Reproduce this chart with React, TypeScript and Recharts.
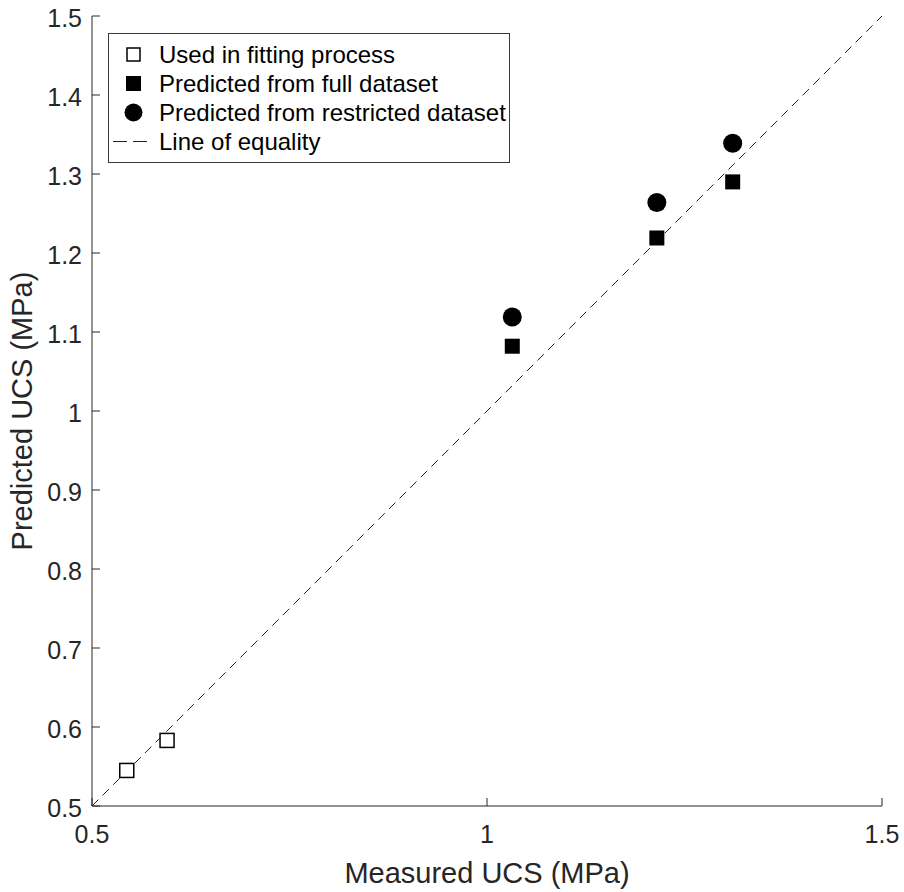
import { ScatterChart, Scatter, XAxis, YAxis, ReferenceLine, Legend } from 'recharts'

const FONT = '"Liberation Sans", Arial, Helvetica, sans-serif'
const INK = '#262626'

// measured vs predicted UCS (MPa)
const fitMeasured = [0.544, 0.595]
const fitPredicted = [0.545, 0.583]
const testMeasured = [1.032, 1.215, 1.311]
const fullPredicted = [1.082, 1.219, 1.29]
const restrictedPredicted = [1.119, 1.264, 1.339]

const xTicks = [0.5, 1, 1.5]
const yTicks = [0.5, 0.6, 0.7, 0.8, 0.9, 1, 1.1, 1.2, 1.3, 1.4, 1.5]

const legendItems = [
  { key: 'open', label: 'Used in fitting process' },
  { key: 'square', label: 'Predicted from full dataset' },
  { key: 'circle', label: 'Predicted from restricted dataset' },
  { key: 'dash', label: 'Line of equality' },
]

const fitData = fitMeasured.map((x, i) => ({ x, y: fitPredicted[i] }))
const fullData = testMeasured.map((x, i) => ({ x, y: fullPredicted[i] }))
const restrictedData = testMeasured.map((x, i) => ({ x, y: restrictedPredicted[i] }))

const fmt = (v: number) => String(Number(v.toFixed(1)))

const OpenSquare = (p: any) => (
  <rect x={p.cx - 7} y={p.cy - 7} width={14} height={14} fill="#fff" stroke="#000" strokeWidth={1.5} />
)
const FilledSquare = (p: any) => (
  <rect x={p.cx - 7.5} y={p.cy - 7.5} width={15} height={15} fill="#000" />
)
const Dot = (p: any) => <circle cx={p.cx} cy={p.cy} r={9.5} fill="#000" />

const XTick = ({ x, y, payload }: any) => (
  <g>
    <line x1={x} x2={x} y1={y} y2={y - 8} stroke={INK} strokeWidth={1} />
    <text x={x} y={y + 37} textAnchor="middle" fontSize={25} fontFamily={FONT} fill={INK}>
      {fmt(payload.value)}
    </text>
  </g>
)

const YTick = ({ x, y, payload }: any) => (
  <g>
    <line x1={x} x2={x + 8} y1={y} y2={y} stroke={INK} strokeWidth={1} />
    <text x={x - 10} y={y + 10.5} textAnchor="end" fontSize={25} fontFamily={FONT} fill={INK}>
      {fmt(payload.value)}
    </text>
  </g>
)

function LegendMarker({ kind }: { kind: string }) {
  return (
    <svg width={40} height={29} style={{ display: 'block' }}>
      {kind === 'open' && <rect x={14} y={8} width={13} height={13} fill="#fff" stroke="#000" strokeWidth={1.5} />}
      {kind === 'square' && <rect x={13} y={7} width={15} height={15} fill="#000" />}
      {kind === 'circle' && <circle cx={20.5} cy={14.5} r={9} fill="#000" />}
      {kind === 'dash' && <line x1={0} x2={34} y1={14.5} y2={14.5} stroke={INK} strokeWidth={1} strokeDasharray="14 6" />}
    </svg>
  )
}

function LegendBox() {
  return (
    <div
      style={{
        border: '1px solid #3a3a3a',
        background: '#fff',
        width: 400,
        padding: '6px 0 6px 0',
        fontFamily: FONT,
        fontSize: 24,
        color: '#000',
      }}
    >
      {legendItems.map(it => (
        <div key={it.key} style={{ display: 'flex', alignItems: 'center', height: 29 }}>
          <div style={{ marginLeft: 4, width: 40 }}>
            <LegendMarker kind={it.key} />
          </div>
          <span style={{ marginLeft: 6, whiteSpace: 'nowrap' }}>{it.label}</span>
        </div>
      ))}
    </div>
  )
}

export default function App() {
  return (
    <div style={{ position: 'absolute', left: 0, top: 0, width: 904, height: 892, background: '#fff' }}>
      <ScatterChart width={904} height={892} margin={{ top: 16, right: 22, bottom: 6, left: 12 }}>
        <XAxis
          type="number"
          dataKey="x"
          domain={[0.5, 1.5]}
          ticks={xTicks}
          allowDataOverflow
          height={80}
          tickSize={0}
          tickMargin={0}
          tickLine={false}
          tick={<XTick />}
          axisLine={{ stroke: INK, strokeWidth: 1 }}
          label={{
            value: 'Measured UCS (MPa)',
            position: 'insideBottom',
            offset: 3,
            style: { fontSize: 29, fontFamily: FONT, fill: INK },
          }}
        />
        <YAxis
          type="number"
          dataKey="y"
          domain={[0.5, 1.5]}
          ticks={yTicks}
          allowDataOverflow
          width={80}
          tickSize={0}
          tickMargin={0}
          tickLine={false}
          tick={<YTick />}
          axisLine={{ stroke: INK, strokeWidth: 1 }}
          label={{
            value: 'Predicted UCS (MPa)',
            angle: -90,
            position: 'insideLeft',
            offset: 10,
            style: { fontSize: 29, fontFamily: FONT, fill: INK, textAnchor: 'middle' },
          }}
        />
        <ReferenceLine
          segment={[
            { x: 0.5, y: 0.5 },
            { x: 1.5, y: 1.5 },
          ]}
          stroke={INK}
          strokeWidth={1}
          strokeDasharray="9 6"
        />
        <Scatter data={fitData} shape={OpenSquare} isAnimationActive={false} />
        <Scatter data={fullData} shape={FilledSquare} isAnimationActive={false} />
        <Scatter data={restrictedData} shape={Dot} isAnimationActive={false} />
        <Legend
          layout="vertical"
          verticalAlign="middle"
          align="center"
          content={() => <LegendBox />}
          wrapperStyle={{ left: 108, top: 33, width: 402 }}
        />
      </ScatterChart>
    </div>
  )
}
